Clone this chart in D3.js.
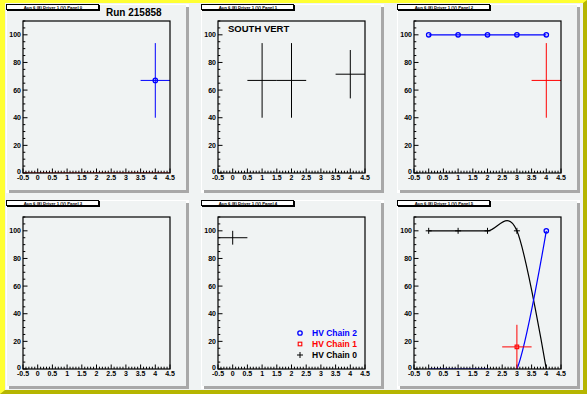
<!DOCTYPE html>
<html>
<head>
<meta charset="utf-8">
<script src="https://cdn.jsdelivr.net/npm/d3@7"></script>
<style>
  html, body { margin: 0; padding: 0; background: #ffff33; }
  svg { display: block; font-family: "Liberation Sans", Arial, sans-serif; }
</style>
</head>
<body>
<div id="canvas"></div>
<script>
// ---- data ----
const xPoints = [0, 1, 2, 3, 4];
const xTickLabels = ["-0.5", "0", "0.5", "1", "1.5", "2", "2.5", "3", "3.5", "4", "4.5"];
const yTickLabels = [0, 20, 40, 60, 80, 100];
const panelTitles = [
    "Acn 6 (8) Driver 1 (V) Panel 0",
    "Acn 6 (8) Driver 1 (V) Panel 1",
    "Acn 6 (8) Driver 1 (V) Panel 2",
    "Acn 6 (8) Driver 1 (V) Panel 3",
    "Acn 6 (8) Driver 1 (V) Panel 4",
    "Acn 6 (8) Driver 1 (V) Panel 5"
];
const runLabel = "Run 215858";
const regionLabel = "SOUTH VERT";

// panel 0
const p0Blue = [{x: 4, y: 67, ex: 0.5, ey: 27}];
const p0Red = [{x: 0, y: 0, ex: 0.5, ey: 0}, {x: 1, y: 0, ex: 0.5, ey: 0}, {x: 2, y: 0, ex: 0.5, ey: 0},
               {x: 3, y: 0, ex: 0.5, ey: 0}, {x: 4, y: 0, ex: 0.5, ey: 0}];
// panel 1
const p1Black = [{x: 1, y: 67, ex: 0.5, ey: 27}, {x: 2, y: 67, ex: 0.5, ey: 27}, {x: 4, y: 71.5, ex: 0.5, ey: 17.5}];
// panel 2
const p2Blue = [100, 100, 100, 100, 100];
const p2Red = [{x: 4, y: 67, ex: 0.5, ey: 27}];
// panel 4
const p4Black = [{x: 0, y: 95, ex: 0.5, ey: 5}];
// panel 5 (HV chains)
const chain0 = [100, 100, 100, 100, 0];
const chain2 = [0, 0, 0, 0, 100];
const chain1 = [{x: 3, y: 16, ex: 0.5, ey: 16}];
const legendLabels = ["HV Chain 2", "HV Chain 1", "HV Chain 0"];
const legendColors = ["#0000ff", "#ff0000", "#000000"];

// ---- layout ----
const W = 587, H = 394;
const padColor = "#f0f3f3";
const svg = d3.select("#canvas").append("svg").attr("width", W).attr("height", H);

// canvas bevel
svg.append("rect").attr("width", W).attr("height", H).attr("fill", "#ffff33");
svg.append("polygon").attr("points", `${W},0 ${W},${H} 0,${H} 5,390 583,390 583,3`).attr("fill", "#b5b500");
svg.append("rect").attr("x", 5).attr("y", 3).attr("width", 578).attr("height", 387).attr("fill", padColor);

const colX = [6, 201, 397];
const rowY = [4, 200];
const padW = 183, padH = 189;

const x = d3.scaleLinear().domain([-0.5, 4.5]);
const y = d3.scaleLinear().domain([0, 110]);

function drawPad(i) {
    const px = colX[i % 3], py = rowY[Math.floor(i / 3)];
    const g = svg.append("g").attr("transform", `translate(${px},${py})`);

    // pad bevel
    g.append("rect").attr("width", padW).attr("height", padH).attr("fill", "#ffffff");
    g.append("rect").attr("x", 3).attr("y", 3).attr("width", padW - 3).attr("height", padH - 3).attr("fill", "#a8a8a8");
    g.append("rect").attr("x", 1).attr("y", 1).attr("width", padW - 4).attr("height", padH - 4).attr("fill", padColor);

    const fx0 = 17, fx1 = 164, fy0 = 17, fy1 = 169;
    x.range([fx0, fx1]);
    y.range([fy1, fy0]);
    const xs = x.copy(), ys = y.copy();

    const clipId = "clip" + i;
    g.append("clipPath").attr("id", clipId).append("rect")
        .attr("x", fx0).attr("y", fy0).attr("width", fx1 - fx0).attr("height", fy1 - fy0);

    // axes: ticks point inwards
    const ax = g.append("g").attr("stroke", "#000").attr("stroke-width", 1);
    d3.range(-0.5, 4.5001, 0.1).forEach((v, k) => {
        const major = k % 5 === 0;
        ax.append("line").attr("x1", xs(v)).attr("x2", xs(v))
            .attr("y1", fy1).attr("y2", fy1 - (major ? 4.5 : 2.3));
    });
    d3.range(0, 110.001, 5).forEach(v => {
        const major = v % 20 === 0;
        ax.append("line").attr("y1", ys(v)).attr("y2", ys(v))
            .attr("x1", fx0).attr("x2", fx0 + (major ? 4.5 : 2.3));
    });
    g.selectAll(".xl").data(xTickLabels).enter().append("text")
        .attr("x", d => xs(+d)).attr("y", fy1 + 7)
        .attr("text-anchor", "middle").attr("font-size", 7).attr("font-weight", "bold")
        .text(d => d);
    g.selectAll(".yl").data(yTickLabels).enter().append("text")
        .attr("x", fx0 - 2).attr("y", d => ys(d) + (d === 0 ? 1 : 2.5))
        .attr("text-anchor", "end").attr("font-size", 7).attr("font-weight", "bold")
        .text(d => d);

    // title box
    g.append("rect").attr("x", 1).attr("y", 1).attr("width", 93).attr("height", 6).attr("fill", "#000");
    g.append("rect").attr("x", 0.5).attr("y", 0.5).attr("width", 92).attr("height", 5)
        .attr("fill", "#fff").attr("stroke", "#000").attr("stroke-width", 1);
    g.append("text").attr("x", 47).attr("y", 4.6).attr("text-anchor", "middle")
        .attr("font-size", 4.3).attr("font-weight", "bold").text(panelTitles[i]);

    const plot = g.append("g").attr("clip-path", `url(#${clipId})`);
    return {g, plot, xs, ys, fx0, fx1, fy0, fy1};
}

function errorBars(p, data, color) {
    const sel = p.plot.append("g").attr("stroke", color).attr("stroke-width", 1).attr("fill", "none");
    data.forEach(d => {
        sel.append("line").attr("x1", p.xs(d.x - d.ex)).attr("x2", p.xs(d.x + d.ex))
            .attr("y1", p.ys(d.y)).attr("y2", p.ys(d.y));
        if (d.ey > 0)
            sel.append("line").attr("x1", p.xs(d.x)).attr("x2", p.xs(d.x))
                .attr("y1", p.ys(d.y - d.ey)).attr("y2", p.ys(d.y + d.ey));
    });
}

function circleMarker(parent, cx, cy, color) {
    parent.append("circle").attr("cx", cx).attr("cy", cy).attr("r", 2.2)
        .attr("fill", "none").attr("stroke", color).attr("stroke-width", 1.3);
}
function plusMarker(parent, cx, cy, color) {
    parent.append("path").attr("d", `M${cx - 3},${cy}H${cx + 3}M${cx},${cy - 3}V${cy + 3}`)
        .attr("stroke", color).attr("stroke-width", 1).attr("fill", "none");
}
function squareMarker(parent, cx, cy, color) {
    parent.append("rect").attr("x", cx - 1.8).attr("y", cy - 1.8).attr("width", 3.6).attr("height", 3.6)
        .attr("fill", "none").attr("stroke", color).attr("stroke-width", 1.1);
}

function curveSeries(p, values, color, curve) {
    const line = d3.line().x((d, k) => p.xs(xPoints[k])).y(d => p.ys(d)).curve(curve);
    p.plot.append("path").datum(values).attr("d", line)
        .attr("fill", "none").attr("stroke", color).attr("stroke-width", 1.2);
}

function frame(p) {
    p.g.append("rect").attr("x", p.fx0).attr("y", p.fy0)
        .attr("width", p.fx1 - p.fx0).attr("height", p.fy1 - p.fy0)
        .attr("fill", "none").attr("stroke", "#000").attr("stroke-width", 1.2);
}

// panel 0
let p = drawPad(0);
errorBars(p, p0Red, "#ff0000");
errorBars(p, p0Blue, "#0000ff");
p0Blue.forEach(d => circleMarker(p.plot, p.xs(d.x), p.ys(d.y), "#0000ff"));
frame(p);
p.g.append("text").attr("x", 100).attr("y", 12).attr("font-size", 10).attr("font-weight", "bold").text(runLabel);

// panel 1
p = drawPad(1);
errorBars(p, p1Black, "#000000");
frame(p);
p.g.append("text").attr("x", 27).attr("y", 28).attr("font-size", 9.5).attr("font-weight", "bold").text(regionLabel);

// panel 2
p = drawPad(2);
curveSeries(p, p2Blue, "#0000ff", d3.curveLinear);
p2Blue.forEach((v, k) => circleMarker(p.plot, p.xs(xPoints[k]), p.ys(v), "#0000ff"));
errorBars(p, p2Red, "#ff0000");
frame(p);

// panel 3
p = drawPad(3);
frame(p);

// panel 4
p = drawPad(4);
errorBars(p, p4Black, "#000000");
frame(p);
const leg = p.g.append("g");
legendLabels.forEach((lab, k) => {
    const ly = 133 + k * 11;
    if (k === 0) circleMarker(leg, 99, ly, legendColors[k]);
    if (k === 1) squareMarker(leg, 99, ly, legendColors[k]);
    if (k === 2) plusMarker(leg, 99, ly, legendColors[k]);
    leg.append("text").attr("x", 111).attr("y", ly + 3).attr("font-size", 8.5).attr("font-weight", "bold")
        .attr("fill", legendColors[k]).text(lab);
});

// panel 5
p = drawPad(5);
curveSeries(p, chain0, "#000000", d3.curveCardinal.tension(0));
curveSeries(p, chain2, "#0000ff", d3.curveCardinal.tension(0));
chain0.forEach((v, k) => { if (v > 0) plusMarker(p.plot, p.xs(xPoints[k]), p.ys(v), "#000000"); });
chain2.forEach((v, k) => { if (v > 0) circleMarker(p.plot, p.xs(xPoints[k]), p.ys(v), "#0000ff"); });
errorBars(p, chain1, "#ff0000");
chain1.forEach(d => squareMarker(p.plot, p.xs(d.x), p.ys(d.y), "#ff0000"));
frame(p);
</script>
</body>
</html>
